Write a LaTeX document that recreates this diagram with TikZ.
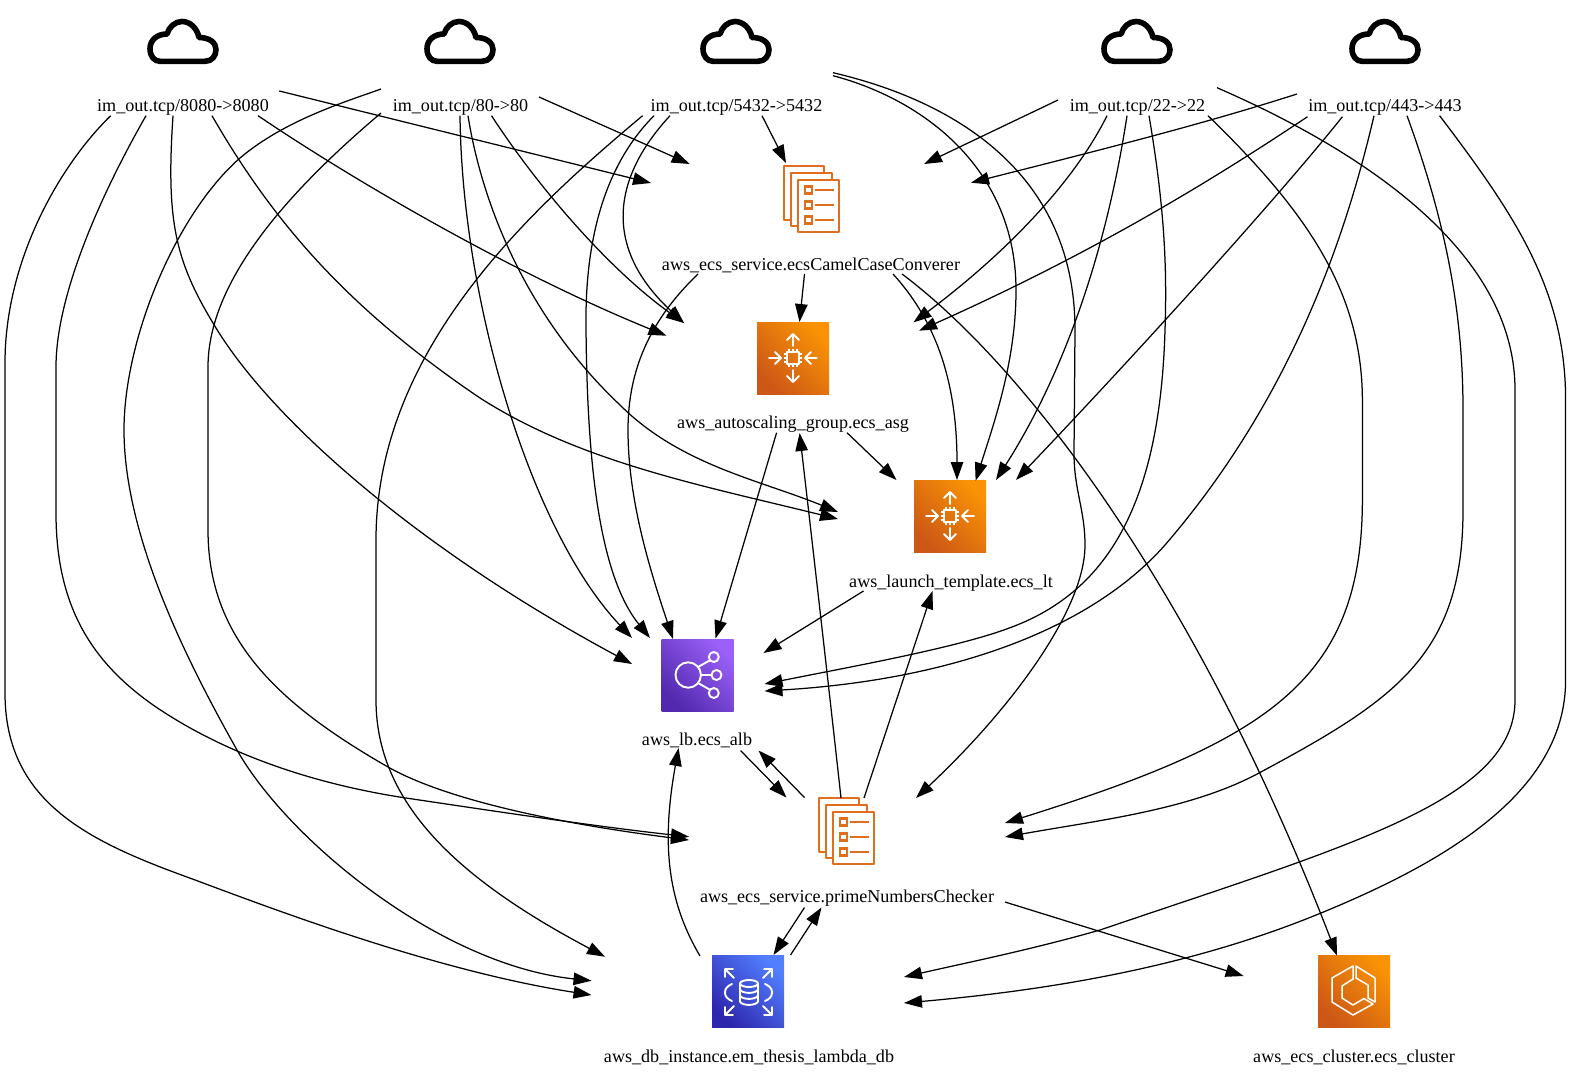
\documentclass[tikz,border=0pt]{standalone}
\usepackage{fontspec}
\setmainfont{Liberation Serif}
\usetikzlibrary{arrows.meta}
\definecolor{docorange}{HTML}{DF6E1E}
\definecolor{orange1}{HTML}{CC5716}
\definecolor{orange2}{HTML}{F99205}
\definecolor{purple1}{HTML}{5229AE}
\definecolor{purple2}{HTML}{9A60F8}
\definecolor{blue1}{HTML}{2E27AD}
\definecolor{blue2}{HTML}{527FFF}
\tikzset{
  x=1pt,y=-1pt,
  edge/.style={draw=black,line width=1.25pt,-{Triangle[length=18pt,width=12.5pt]}},
  lbl/.style={font=\fontsize{18.1pt}{20pt}\selectfont,text=black,inner sep=0pt,anchor=center},
  square/.style={minimum size=72pt,inner sep=0pt,draw=none},
  asgbox/.style={square,bottom color=orange1,top color=orange2,shading angle=-45},
  albbox/.style={square,bottom color=purple1,top color=purple2,shading angle=-45},
  rdsbox/.style={square,bottom color=blue1,top color=blue2,shading angle=-45},
  glyph/.style={draw=white,line width=1.9pt,line cap=round,line join=round},
  sheet/.style={draw=docorange,fill=white,line width=2.9pt,line join=round},
  pics/cloudicon/.style={code={
    \draw[line width=5.6pt,line join=round,draw=black,fill=white]
      (-22,19.3) -- (23,19.3) .. controls (30,19.3) and (34,14) .. (34,7.5)
      .. controls (34,1) and (28,-4.5) .. (17,-4.5)
      .. controls (15,-14) and (8,-20.5) .. (0,-20.5)
      .. controls (-7,-20.5) and (-13,-15) .. (-15,-8)
      .. controls (-25,-8) and (-32,-2) .. (-32,6.7)
      .. controls (-32,14) and (-28,19.3) .. (-22,19.3) -- cycle;
  }},
  pics/docicon/.style={code={
    \draw[sheet] (-27,-34) rectangle (13,20);
    \draw[sheet] (-20,-27) rectangle (21,26);
    \draw[sheet] (-13,-20) rectangle (28,32);
    \foreach \yy in {-10,5,20}{
      \draw[docorange,line width=2.6pt] (-6,\yy-3.5) rectangle (1,\yy+3.5);
      \draw[docorange,line width=2.6pt] (4,\yy) -- (23,\yy);
    }
  }},
  pics/asgicon/.style={code={
    \draw[glyph] (-6,-6) rectangle (6,6);
    \foreach \a in {-4,0,4}{
      \draw[white,line width=1.1pt] (\a,-9) -- (\a,-6) (\a,6) -- (\a,9) (-9,\a) -- (-6,\a) (6,\a) -- (9,\a);
    }
    \draw[glyph] (0,-12) -- (0,-24) (-6,-18) -- (0,-24) -- (6,-18);
    \draw[glyph] (0,12) -- (0,24) (-6,18) -- (0,24) -- (6,18);
    \draw[glyph] (-24,0) -- (-12,0) (-18,-6) -- (-12,0) -- (-18,6);
    \draw[glyph] (24,0) -- (12,0) (18,-6) -- (12,0) -- (18,6);
  }},
  pics/albicon/.style={code={
    \draw[glyph] (-9.3,0) circle (12.7);
    \draw[glyph] (16.3,-18) circle (5) (19,0) circle (5) (16.3,18) circle (5);
    \draw[glyph] (3.4,0) -- (14,0) (0.5,-8) -- (12.6,-14.8) (0.5,8) -- (12.6,14.8);
  }},
  pics/rdsicon/.style={code={
    \draw[glyph] (-23,-14) -- (-23,-22) -- (-15,-22) (-23,-22) -- (-14,-13);
    \draw[glyph] (24,-14) -- (24,-22) -- (16,-22) (24,-22) -- (15,-13);
    \draw[glyph] (-23,16) -- (-23,24) -- (-15,24) (-23,24) -- (-14,15);
    \draw[glyph] (24,16) -- (24,24) -- (16,24) (24,24) -- (15,15);
    \draw[glyph] (-16,-7) .. controls (-21,-5) and (-23,-2) .. (-23,1.5) .. controls (-23,5) and (-21,8) .. (-16,10);
    \draw[glyph] (17,-7) .. controls (22,-5) and (24,-2) .. (24,1.5) .. controls (24,5) and (22,8) .. (17,10);
    \draw[glyph] (1,-7.5) ellipse (9 and 3.5);
    \draw[glyph] (-8,-7.5) -- (-8,10.5) .. controls (-6,15) and (8,15) .. (10,10.5) -- (10,-7.5);
    \draw[glyph] (-8,-1.5) .. controls (-6,3) and (8,3) .. (10,-1.5);
    \draw[glyph] (-8,4.5) .. controls (-6,9) and (8,9) .. (10,4.5);
  }},
  pics/ecsicon/.style={code={
    \draw[glyph,line width=1.5pt] (-1,-25) -- (-22,-13) -- (-22,11) -- (-1,24) -- (19,13) -- (10,7.5) -- (-1,14) -- (-12,7) -- (-12,-5) -- (-1,-12) -- cycle;
    \draw[glyph,line width=1.5pt] (2,-25) -- (2,-13) -- (14,-6) -- (14,7) -- (21,11) -- (21,-13) -- cycle;
  }},
}
\begin{document}
\begin{tikzpicture}
\useasboundingbox (0,0) rectangle (1571,1071);
% text labels
\node[lbl] (n8080) at (183,107) {im\_out.tcp/8080->8080};
\node[lbl] (n80) at (460.5,107) {im\_out.tcp/80->80};
\node[lbl] (n5432) at (736.5,107) {im\_out.tcp/5432->5432};
\node[lbl] (n22) at (1137.5,107) {im\_out.tcp/22->22};
\node[lbl] (n443) at (1385,107) {im\_out.tcp/443->443};
\node[lbl] (ncamel) at (811,265.5) {aws\_ecs\_service.ecsCamelCaseConverer};
\node[lbl] (nasg) at (793,424) {aws\_autoscaling\_group.ecs\_asg};
\node[lbl] (nlt) at (951,583) {aws\_launch\_template.ecs\_lt};
\node[lbl] (nlb) at (697,740) {aws\_lb.ecs\_alb};
\node[lbl] (nprime) at (847,898.5) {aws\_ecs\_service.primeNumbersChecker};
\node[lbl] (ndb) at (749,1057) {aws\_db\_instance.em\_thesis\_lambda\_db};
\node[lbl] (ncl) at (1354,1057) {aws\_ecs\_cluster.ecs\_cluster};
% icons
\pic at (182,42) {cloudicon};
\pic at (459,42) {cloudicon};
\pic at (735,42) {cloudicon};
\pic at (1136,42) {cloudicon};
\pic at (1384,42) {cloudicon};
\pic at (811,200) {docicon};
\pic at (846,832) {docicon};
\node[asgbox] (iasg) at (793,358) {};
\pic at (iasg) {asgicon};
\node[asgbox] (ilt) at (950,516) {};
\pic at (ilt) {asgicon};
\node[albbox] (ilb) at (697.5,675) {};
\pic at (ilb) {albicon};
\node[rdsbox] (idb) at (748,991) {};
\pic at (idb) {rdsicon};
\node[asgbox] (icl) at (1354,991) {};
\pic at (icl) {ecsicon};
% edge end points, named after their node
\foreach \n/\x/\y in {
 a8080/279.3/91, b8080/258/115.7, c8080/212/115.7, d8080/173/115.7, e8080/146/115.7, f8080/110.7/115.7,
 a80/539/97, b80/491.5/115.7, c80/468/115.7, d80/460/115.7, e80/381/113, f80/381/89,
 a5432/762/115.7, b5432/670/115.7, c5432/833/75.7, d5432/654/115.7, e5432/833/72.7, f5432/642.6/115.7,
 a22/1058/100, b22/1107/115.7, c22/1127/115.7, d22/1149/115.7, e22/1208/115.7, f22/1217/87.7,
 a443/1297/94, b443/1307.5/116.7, c443/1342.4/116.7, d443/1374/115.7, e443/1407/115.7, f443/1439.6/115.7,
 camelA/651/183, camelB/689.7/164, camelC/786/163, camelD/924/164, camelE/971/182.7,
 asgA/666.4/335.7, asgB/684/323, asgC/684/323, asgD/913.6/322.3, asgE/919/330.7,
 ltA/838/519, ltB/838/512, ltC/975.6/480.7, ltD/996/480, ltE/1016/480,
 lbA/632/664, lbB/632/638, lbC/650/638, lbD/764.5/684, lbE/764.5/691,
 prA/689/836.7, prB/689/840, prC/916/798, prD/1005/823, prE/1005/837,
 dbA/591.5/995, dbB/591.5/980.7, dbC/605/956.7, dbD/904/977, dbE/904/1003,
 cmS1/698/274, cmS2/804.5/274, cmS3/893/274, cmS4/902/274,
 lbT1/673/639, asgT1/799.5/322, ltT1/957/480, clT1/1337/955.6,
 asS1/776.6/432.7, asS2/847/432.7, lbT2/715.5/638.5, ltT2/896.4/480,
 ltS/863.5/591, lbT3/763.5/653,
 lbS1/740.5/750.5, prT1/786.5/797.5, prS1/804.5/797.5, lbT4/758.5/750.5,
 prS2/841/798, asgT2/799.6/433, prS3/864/798, ltT3/932.5/591,
 prS4/804.5/907.5, dbT1/773.5/955, dbS1/790.5/955, prT2/821.5/907.5,
 dbS2/700/956, lbT5/678.6/748, prS5/1005/902, clT2/1243.6/976}
 {\coordinate (\n) at (\x,\y);}
% from 8080
\draw[edge] (a8080) -- (camelA);
\draw[edge] (b8080) .. controls (350,178) and (510,272) .. (asgA);
\draw[edge] (c8080) .. controls (275,225) and (350,310) .. (480,398) .. controls (580,462) and (700,485) .. (ltA);
\draw[edge] (d8080) .. controls (166,220) and (175,260) .. (213,323) .. controls (270,420) and (420,550) .. (lbA);
\draw[edge] (e8080) .. controls (95,205) and (56,300) .. (56,367) -- (56,513) .. controls (56,610) and (95,665) .. (156,707) .. controls (230,757) and (320,785) .. (406,798) .. controls (500,812) and (600,827) .. (prA);
\draw[edge] (f8080) .. controls (60,165) and (5,260) .. (5,363) -- (5,693) .. controls (5,800) and (85,840) .. (187,877) .. controls (260,904) and (430,970) .. (dbA);
% from 80
\draw[edge] (a80) -- (camelB);
\draw[edge] (b80) .. controls (540,190) and (610,270) .. (asgB);
\draw[edge] (c80) .. controls (483,210) and (530,320) .. (620,405) .. controls (680,465) and (760,480) .. (ltB);
\draw[edge] (d80) .. controls (462,300) and (530,530) .. (lbB);
\draw[edge] (e80) .. controls (290,190) and (208,280) .. (208,367) -- (208,530) .. controls (208,640) and (280,705) .. (388,767) .. controls (450,802) and (570,825) .. (prB);
\draw[edge] (f80) .. controls (345,102) and (285,120) .. (240,158) .. controls (175,215) and (124,340) .. (124,430) .. controls (124,540) and (192,670) .. (237,750) .. controls (288,840) and (440,965) .. (dbB);
% from 5432
\draw[edge] (a5432) -- (camelC);
\draw[edge] (b5432) .. controls (615,175) and (600,245) .. (asgC);
\draw[edge] (c5432) .. controls (925,100) and (1016,170) .. (1016,290) .. controls (1016,360) and (995,420) .. (ltC);
\draw[edge] (d5432) .. controls (600,170) and (585,250) .. (586,327) .. controls (587,440) and (595,570) .. (lbC);
\draw[edge] (e5432) .. controls (950,100) and (1075,170) .. (1075,330) -- (1074,453) .. controls (1074,490) and (1085,510) .. (1085,545) .. controls (1085,610) and (1010,710) .. (prC);
\draw[edge] (f5432) .. controls (530,210) and (376,350) .. (376,540) -- (376,700) .. controls (376,810) and (470,885) .. (dbC);
% from 22
\draw[edge] (a22) -- (camelD);
\draw[edge] (b22) .. controls (1075,180) and (1010,250) .. (asgD);
\draw[edge] (c22) .. controls (1105,260) and (1060,380) .. (ltD);
\draw[edge] (d22) .. controls (1165,210) and (1167,270) .. (1165,330) .. controls (1160,500) and (1110,590) .. (1012,627) .. controls (960,647) and (860,665) .. (lbD);
\draw[edge] (e22) .. controls (1305,210) and (1362,290) .. (1362.4,400) -- (1362.4,500) .. controls (1362,680) and (1270,740) .. (prD);
\draw[edge] (f22) .. controls (1360,150) and (1515,250) .. (1515,390) -- (1515,700) .. controls (1515,800) and (1350,845) .. (1100,930) .. controls (1030,950) and (965,963) .. (dbD);
% from 443
\draw[edge] (a443) .. controls (1200,125) and (1100,150) .. (camelE);
\draw[edge] (b443) .. controls (1220,175) and (1100,250) .. (asgE);
\draw[edge] (c443) .. controls (1280,195) and (1140,350) .. (ltE);
\draw[edge] (d443) .. controls (1345,240) and (1290,400) .. (1165,545) .. controls (1090,630) and (950,680) .. (lbE);
\draw[edge] (e443) .. controls (1445,220) and (1463,310) .. (1463,410) -- (1463,510) .. controls (1463,655) and (1395,700) .. (1259,773) .. controls (1190,810) and (1100,820) .. (prE);
\draw[edge] (f443) .. controls (1515,215) and (1565.6,290) .. (1565.6,400) -- (1565.6,680) .. controls (1565.6,790) and (1450,860) .. (1321,913) .. controls (1190,967) and (1050,990) .. (dbE);
% from the camel-case service
\draw[edge] (cmS1) .. controls (650,320) and (628,370) .. (628,430) .. controls (628,500) and (650,570) .. (lbT1);
\draw[edge] (cmS2) -- (asgT1);
\draw[edge] (cmS3) .. controls (935,320) and (957,380) .. (ltT1);
\draw[edge] (cmS4) .. controls (1030,370) and (1200,600) .. (clT1);
% autoscaling group
\draw[edge] (asS1) -- (lbT2);
\draw[edge] (asS2) -- (ltT2);
\draw[edge] (ltS) -- (lbT3);
% load balancer and prime service
\draw[edge] (lbS1) -- (prT1);
\draw[edge] (prS1) -- (lbT4);
\draw[edge] (prS2) .. controls (828,680) and (812,540) .. (asgT2);
\draw[edge] (prS3) -- (ltT3);
\draw[edge] (prS4) -- (dbT1);
\draw[edge] (dbS1) -- (prT2);
\draw[edge] (dbS2) .. controls (670,905) and (660,850) .. (lbT5);
\draw[edge] (prS5) -- (clT2);
\end{tikzpicture}
\end{document}
